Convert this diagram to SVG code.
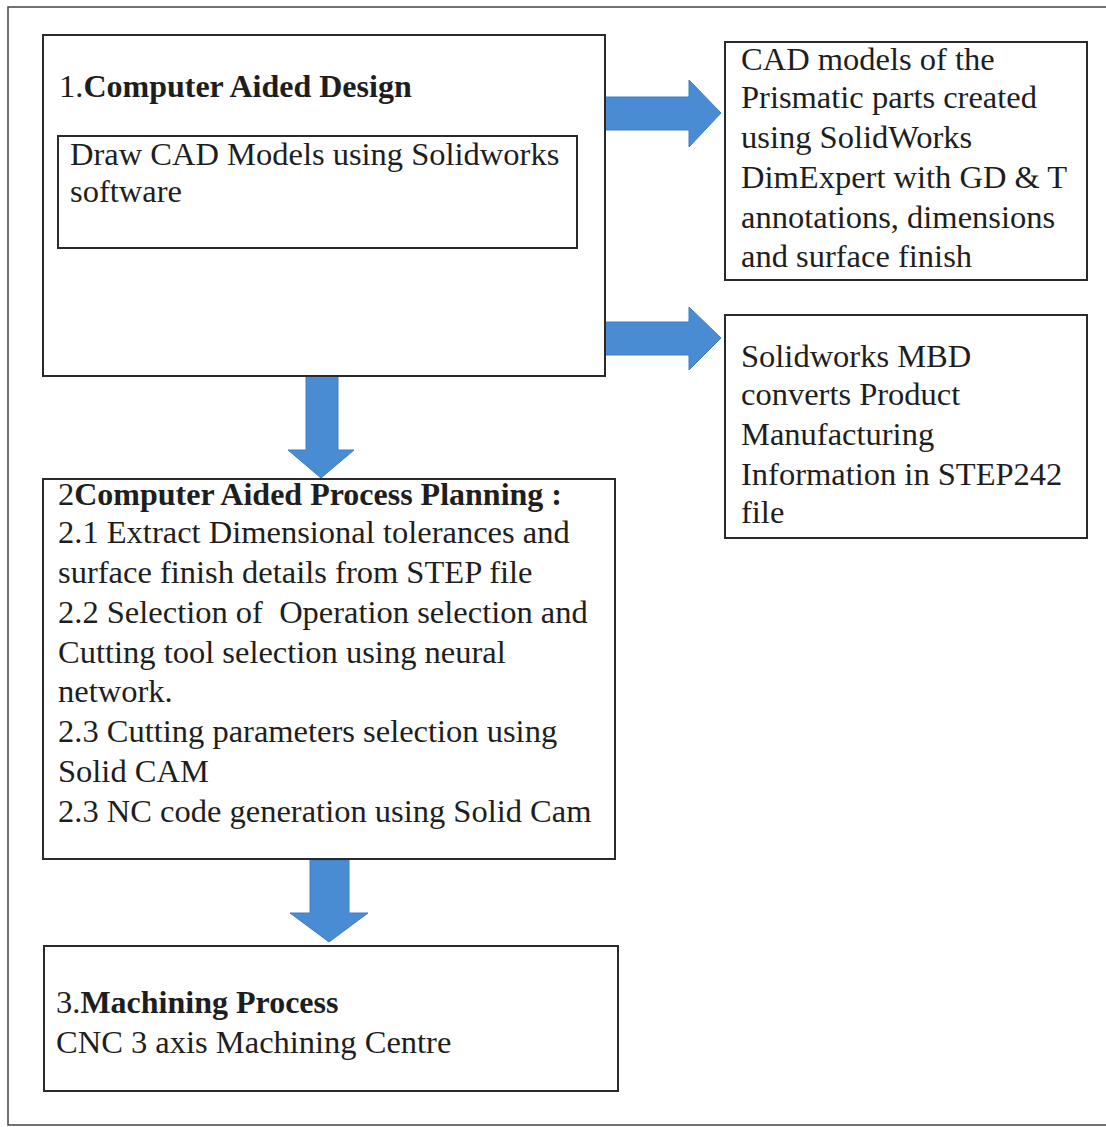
<svg xmlns="http://www.w3.org/2000/svg" width="1106" height="1127" viewBox="0 0 1106 1127">
<style>
.box{fill:#fff;stroke:#2a2a2a;stroke-width:2}
.frame{fill:#fff;stroke:#444;stroke-width:1.5}
.arrow{fill:#4a8cd4;stroke:#3f7dc2;stroke-width:1}
text{font-family:"Liberation Serif","Times New Roman",serif;font-size:32.5px;fill:#1e1e1e}
.b{font-weight:bold;font-size:32px}
</style>
<rect class="frame" x="8" y="7" width="1110" height="1118"/>
<g id="connectors">
<polygon class="arrow" points="603,97 689,97 689,80 721,113 689,147 689,130 603,130"/>
<polygon class="arrow" points="603,322 689,322 689,307 721,338 689,370 689,355 603,355"/>
<polygon class="arrow" points="306,376 338,376 338,450 354,450 321,478 288,450 306,450"/>
<polygon class="arrow" points="310,860 349,860 349,913 368,913 329,942 290,913 310,913"/>
</g>
<g id="cad">
<rect class="box" x="43" y="35" width="562" height="341"/>
<text x="59" y="97">1.<tspan class="b">Computer Aided Design</tspan></text>
<g id="cad-inner">
<rect class="box" x="58" y="136" width="519" height="112"/>
<text x="70" y="165">Draw CAD Models using Solidworks</text>
<text x="70" y="202">software</text>
</g>
</g>
<g id="cad-models">
<rect class="box" x="725" y="42" width="362" height="238"/>
<text x="741" y="70">CAD models of the</text>
<text x="741" y="108">Prismatic parts created</text>
<text x="741" y="148">using SolidWorks</text>
<text x="741" y="188">DimExpert with GD &amp; T</text>
<text x="741" y="228">annotations, dimensions</text>
<text x="741" y="267">and surface finish</text>
</g>
<g id="mbd">
<rect class="box" x="725" y="315" width="362" height="223"/>
<text x="741" y="367">Solidworks MBD</text>
<text x="741" y="405">converts Product</text>
<text x="741" y="445">Manufacturing</text>
<text x="741" y="485">Information in STEP242</text>
<text x="741" y="523">file</text>
</g>
<g id="capp">
<rect class="box" x="43" y="479" width="572" height="380"/>
<text x="58" y="505">2<tspan class="b">Computer Aided Process Planning :</tspan></text>
<text x="58" y="543">2.1 Extract Dimensional tolerances and</text>
<text x="58" y="583">surface finish details from STEP file</text>
<text x="58" y="623" xml:space="preserve">2.2 Selection of  Operation selection and</text>
<text x="58" y="663">Cutting tool selection using neural</text>
<text x="58" y="702">network.</text>
<text x="58" y="742">2.3 Cutting parameters selection using</text>
<text x="58" y="782">Solid CAM</text>
<text x="58" y="822">2.3 NC code generation using Solid Cam</text>
</g>
<g id="machining">
<rect class="box" x="44" y="946" width="574" height="145"/>
<text x="56" y="1013">3.<tspan class="b">Machining Process</tspan></text>
<text x="56" y="1053">CNC 3 axis Machining Centre</text>
</g>
</svg>
